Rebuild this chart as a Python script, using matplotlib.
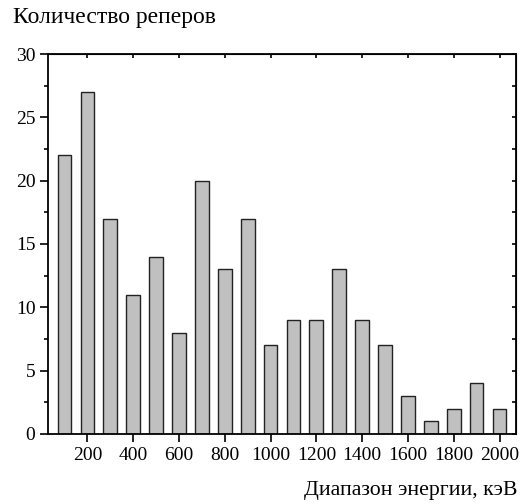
import matplotlib.pyplot as plt
from matplotlib.ticker import MultipleLocator, NullFormatter

plt.rcParams['font.family'] = ['Liberation Serif', 'DejaVu Serif']

# energy bin centres (keV) and number of reference lines in each bin
energy = [100, 200, 300, 400, 500, 600, 700, 800, 900, 1000,
          1100, 1200, 1300, 1400, 1500, 1600, 1700, 1800, 1900, 2000]
counts = [22, 27, 17, 11, 14, 8, 20, 13, 17, 7,
          9, 9, 13, 9, 7, 3, 1, 2, 4, 2]
x_ticks = [200, 400, 600, 800, 1000, 1200, 1400, 1600, 1800, 2000]

fig = plt.figure(figsize=(5.29, 5.04), dpi=100)
ax = fig.add_axes([48 / 529, 70 / 504, 468 / 529, 380 / 504])

ax.bar(energy, counts, width=60, color='#c0c0c0', edgecolor='#222222', linewidth=1)

ax.set_xlim(28, 2072)
ax.set_ylim(0, 30)
ax.set_xticks(x_ticks)
ax.yaxis.set_major_locator(MultipleLocator(5))
ax.yaxis.set_minor_locator(MultipleLocator(2.5))
ax.tick_params(axis='both', which='major', direction='out', length=6, width=1.2,
               labelsize=14, pad=3)
ax.tick_params(axis='y', which='minor', direction='out', length=3, width=1.2)
for s in ax.spines.values():
    s.set_linewidth(1.3)

# small inward ticks on the top and right frame
top = ax.secondary_xaxis('top')
top.set_xticks(x_ticks)
top.xaxis.set_major_formatter(NullFormatter())
top.tick_params(direction='in', length=3, width=1.2)
right = ax.secondary_yaxis('right')
right.yaxis.set_major_locator(MultipleLocator(2.5))
right.yaxis.set_major_formatter(NullFormatter())
right.tick_params(direction='in', length=3, width=1.2)

fig.text(13 / 529, 1 - 18 / 504, 'Количество реперов', fontsize=17,
         ha='left', va='center')
fig.text(517 / 529, 1 - 490 / 504, 'Диапазон энергии, кэВ', fontsize=15.7,
         ha='right', va='center')

fig.savefig('out.png', dpi=100)
